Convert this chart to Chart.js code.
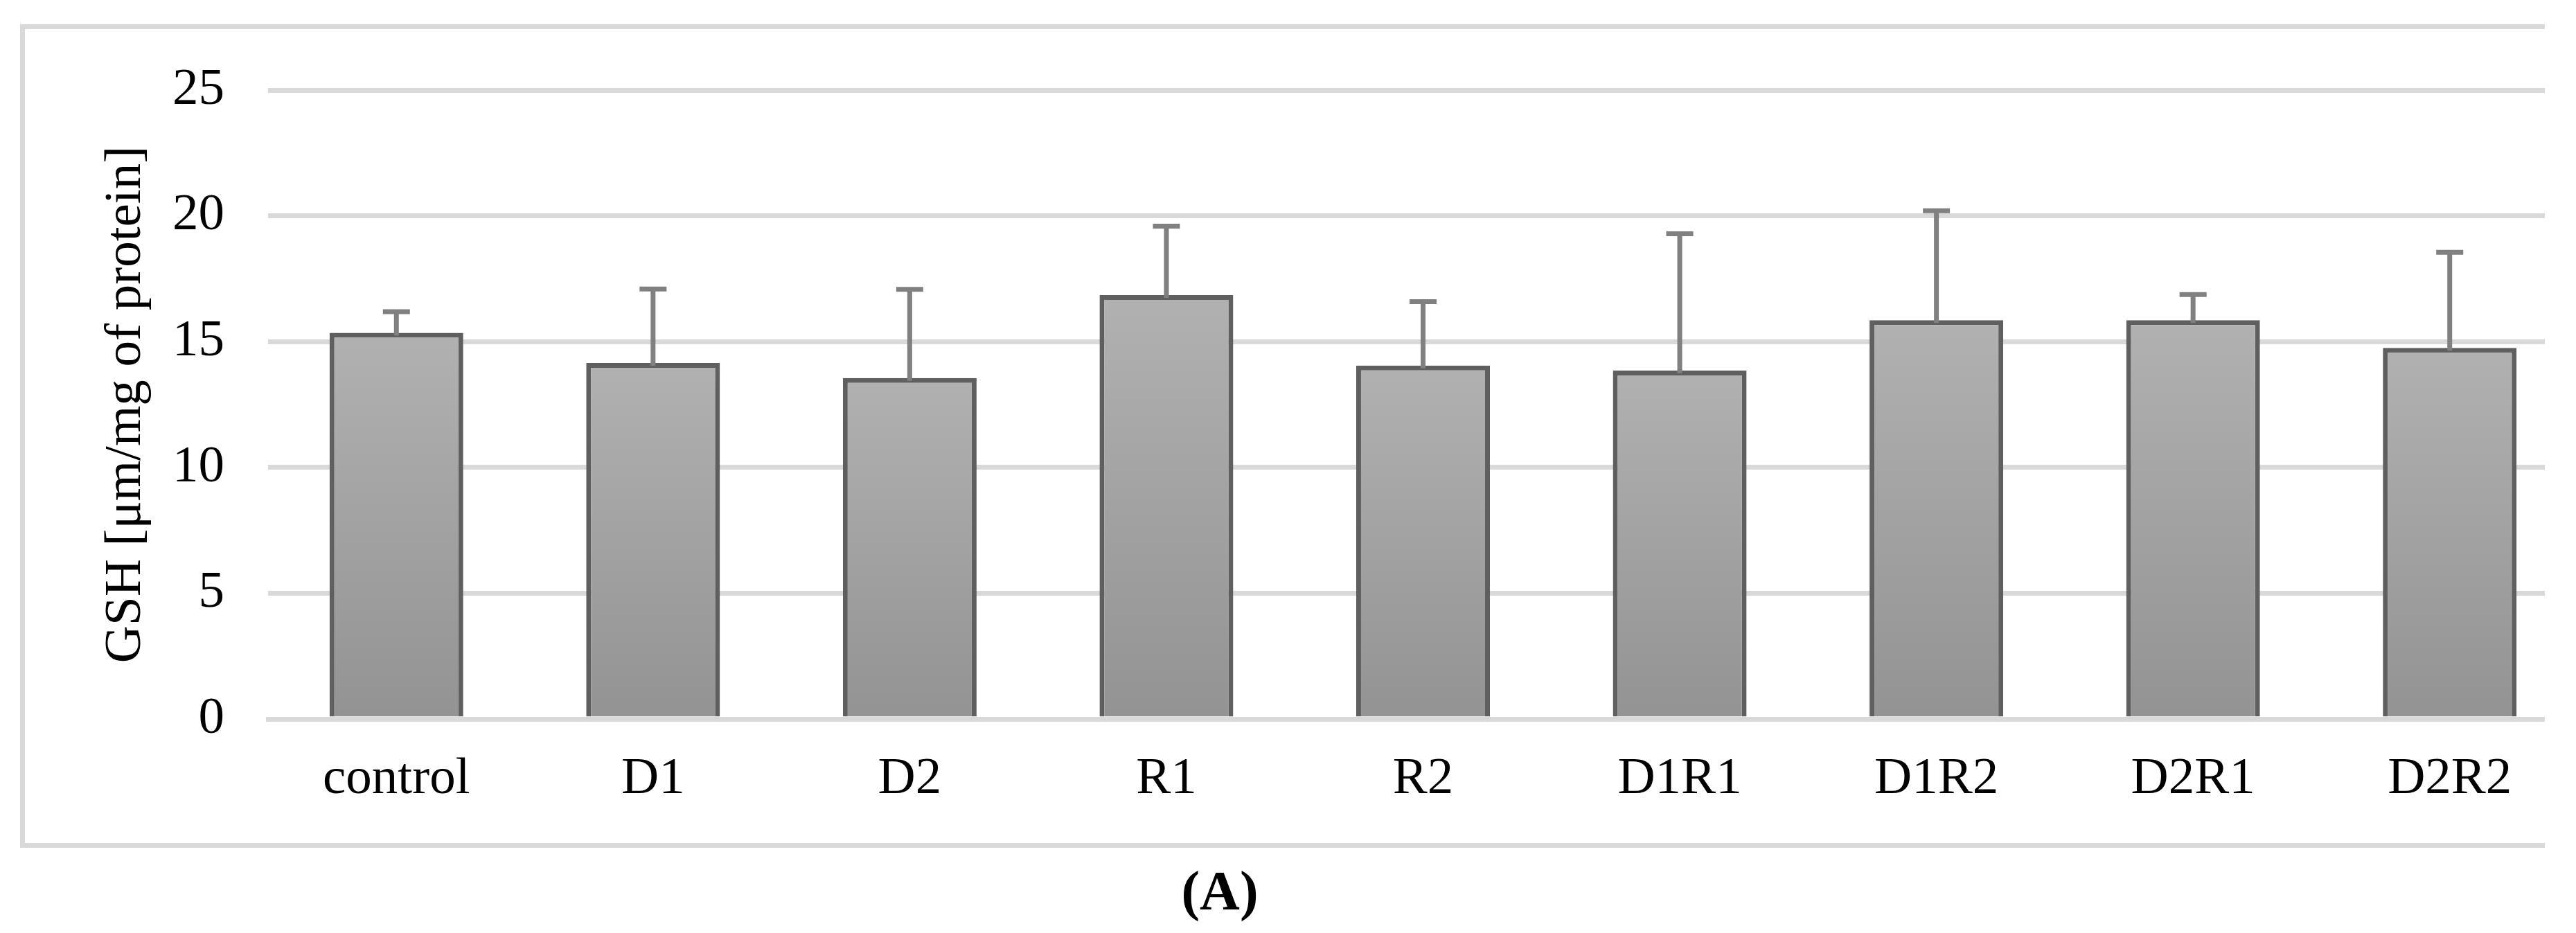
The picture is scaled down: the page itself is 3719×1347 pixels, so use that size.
<!DOCTYPE html>
<html>
<head>
<meta charset="utf-8">
<title>GSH (A)</title>
<script src="https://cdn.jsdelivr.net/npm/chart.js@4.4.1/dist/chart.umd.min.js"></script>
<style>
    html, body { margin: 0; padding: 0; background: #fff; }
    body { width: 3719px; height: 1347px; position: relative; overflow: hidden; }
    /* the original figure is cut off on the right, everything stops at x=3674 */
    #clip { position: absolute; left: 0; top: 0; width: 3674px; height: 1347px; overflow: hidden; }
    #frame {
        position: absolute; left: 29px; top: 35px; width: 3720px; height: 1189px;
        box-sizing: border-box; border: 7px solid #d9d9d9;
    }
    #chart { position: absolute; left: 0; top: 0; }
    #panel {
        position: absolute; left: 1761px; top: 1246px; transform: translateX(-50%);
        font: bold 80px "Liberation Serif", "Times New Roman", serif; line-height: 80px;
        color: #000; white-space: nowrap;
    }
</style>
</head>
<body>
<div id="clip">
    <div id="frame"></div>
    <canvas id="chart" width="3800" height="1347"></canvas>
</div>
<div id="panel">(A)</div>

<script>
// Data
const groups = ['control', 'D1', 'D2', 'R1', 'R2', 'D1R1', 'D1R2', 'D2R1', 'D2R2'];
const gshMean = [15.35, 14.15, 13.55, 16.85, 14.05, 13.85, 15.85, 15.85, 14.75];
const gshSD = [0.84, 2.94, 3.53, 2.74, 2.54, 5.44, 4.35, 1.02, 3.80];
const yTicks = [0, 5, 10, 15, 20, 25];

const serif = '"Liberation Serif", "Times New Roman", serif';

// Upper error bars (mean + SD), drawn over the bars
const errorBars = {
    id: 'errorBars',
    afterDatasetsDraw: function(chart) {
        const ctx = chart.ctx;
        const y = chart.scales.y;
        const meta = chart.getDatasetMeta(0);
        ctx.save();
        ctx.strokeStyle = '#808080';
        ctx.lineWidth = 7;
        ctx.lineCap = 'butt';
        meta.data.forEach((bar, i) => {
            const top = y.getPixelForValue(gshMean[i] + gshSD[i]);
            ctx.beginPath();
            ctx.moveTo(bar.x, bar.y + 4);
            ctx.lineTo(bar.x, top);
            ctx.moveTo(bar.x - 19.5, top);
            ctx.lineTo(bar.x + 19.5, top);
            ctx.stroke();
        });
        ctx.restore();
    }
};

// Light-to-dark grey gradient on every bar
function barFill(context) {
    const chart = context.chart;
    if (!chart.chartArea || context.type !== 'data') return '#a2a2a2';
    const y = chart.scales.y;
    const top = y.getPixelForValue(context.raw);
    const base = y.getPixelForValue(0);
    const g = chart.ctx.createLinearGradient(0, top, 0, base);
    g.addColorStop(0, '#b1b1b1');
    g.addColorStop(1, '#939393');
    return g;
}

document.addEventListener('DOMContentLoaded', function() {
    const ctx = document.getElementById('chart').getContext('2d');
    new Chart(ctx, {
        type: 'bar',
        data: {
            labels: groups,
            datasets: [{
                label: 'GSH',
                data: gshMean,
                backgroundColor: barFill,
                borderColor: '#5f5f5f',
                borderWidth: 7,
                borderSkipped: 'start',
                barPercentage: 0.521,
                categoryPercentage: 1.0
            }]
        },
        options: {
            responsive: false,
            animation: false,
            devicePixelRatio: 1,
            layout: {
                padding: { left: 0, top: 130, right: 78, bottom: 0 }
            },
            plugins: {
                legend: { display: false },
                tooltip: { enabled: false }
            },
            scales: {
                x: {
                    z: 1,
                    grid: { display: false, drawTicks: false },
                    border: { display: true, color: '#d9d9d9', width: 7 },
                    ticks: {
                        padding: 42,
                        color: '#000',
                        font: { family: serif, size: 75 }
                    },
                    afterFit: function(scale) { scale.height = 309; }
                },
                y: {
                    min: 0,
                    max: 25,
                    afterBuildTicks: function(scale) {
                        scale.ticks = yTicks.map(v => ({ value: v }));
                    },
                    grid: { color: '#d9d9d9', lineWidth: 7, drawTicks: false },
                    border: { display: false },
                    ticks: {
                        padding: 63,
                        color: '#000',
                        font: { family: serif, size: 75 }
                    },
                    title: {
                        display: true,
                        text: 'GSH [μm/mg of protein]',
                        color: '#000',
                        font: { family: serif, size: 75 },
                        padding: { top: 137, bottom: 0 }
                    },
                    afterFit: function(scale) { scale.width = 387; }
                }
            }
        },
        plugins: [errorBars]
    });
});
</script>
</body>
</html>
